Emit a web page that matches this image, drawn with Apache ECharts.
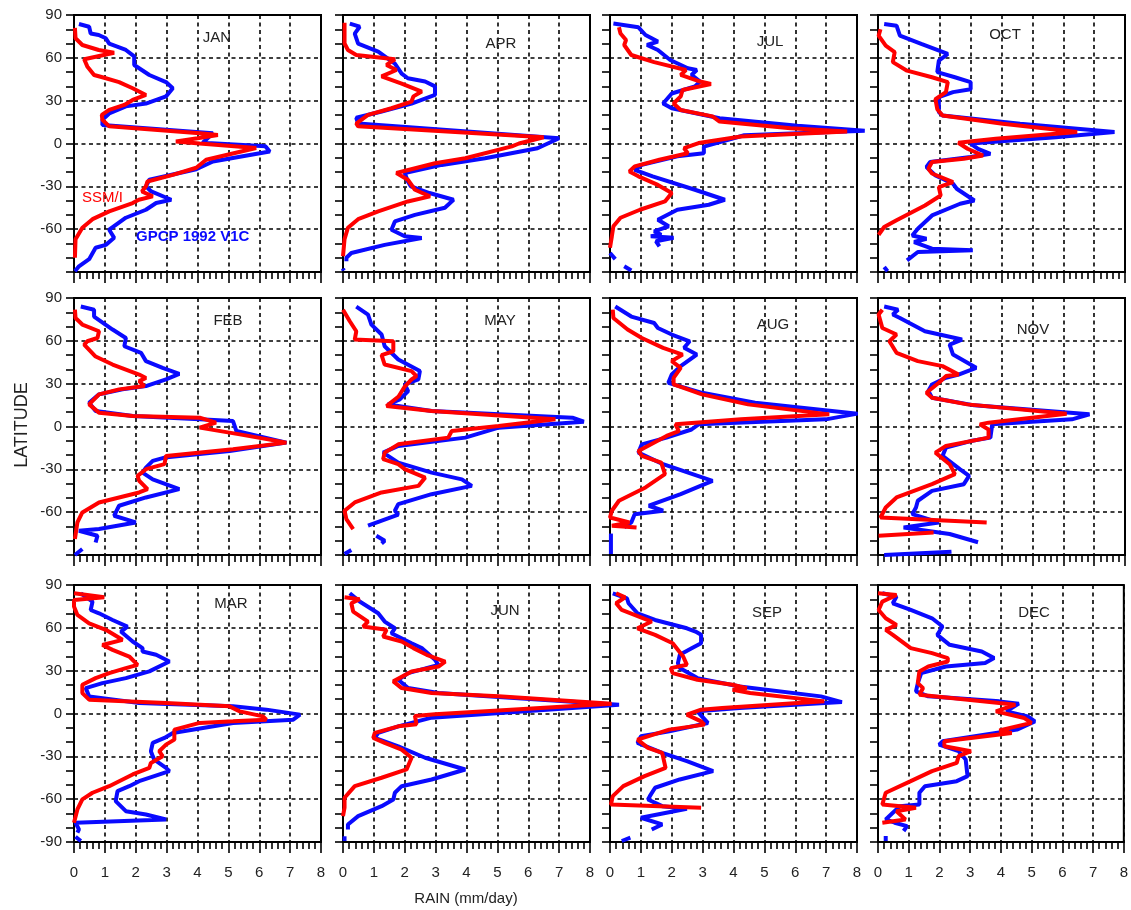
<!DOCTYPE html>
<html><head><meta charset="utf-8">
<script src="https://cdn.jsdelivr.net/npm/echarts@6/dist/echarts.min.js"></script>
<style>html,body{margin:0;padding:0;background:#fff}#c{width:1131px;height:910px}</style>
</head><body><div id="c"></div>
<script>
// ---- DATA: points are [rain (mm/day), latitude]; null separates disconnected pieces
const MONTHS = ['JAN','FEB','MAR','APR','MAY','JUN','JUL','AUG','SEP','OCT','NOV','DEC'];
const X_TICKS = [0,1,2,3,4,5,6,7,8];
const Y_TICKS = [-90,-60,-30,0,30,60,90];

const SSMI_JAN = [[0.03,81],[0.05,73.7],[0.27,69],[0.8,65.5],[1.3,63.6],[0.33,59],[0.43,54],[0.65,48],[0.92,46.4],[1.46,43],[1.9,38.7],[2.33,34],[1.9,30.5],[1.63,27],[1.14,23.5],[0.9,20],[0.92,16.6],[1.14,12],[4.07,7.2],[4.66,6],[4.0,3.7],[3.3,1.4],[4.07,0],[5.9,-3.2],[4.28,-11.4],[3.96,-17],[3.2,-22],[2.38,-26.6],[2.33,-30],[2.2,-33.6],[2.55,-37],[2.1,-39.4],[1.9,-41.7],[1.14,-47.5],[0.6,-53],[0.27,-59],[0.05,-67],[0.03,-80]];
const GPCP_JAN = [[0.16,83.7],[0.49,81.8],[0.54,77],[0.8,76],[1.03,73.7],[1.14,70],[1.68,65.5],[1.95,61],[1.95,55],[2.44,48],[2.98,43],[3.2,38.7],[2.98,33],[2.33,28],[1.68,26],[1.14,21],[0.92,16.6],[0.92,13],[4.5,7.2],[4.17,0.5],[6.2,-2],[6.34,-5.6],[4.5,-12.6],[3.96,-18],[2.44,-25.4],[2.33,-30],[2.5,-33.6],[3.15,-39.4],[2.66,-41.7],[2.33,-46.4],[1.68,-52],[1.14,-60.4],[1.3,-66],[1.03,-71],[0.7,-73],[0.49,-81],[0.16,-86],[0.03,-89.5]];

const SSMI_FEB = [[0.03,81.8],[0.05,76],[0.27,71.4],[0.81,66.7],[0.76,62],[0.43,59.7],[0.33,57.4],[0.7,49],[1.25,43.4],[2.11,36.4],[2.33,34],[2.11,31.8],[2.28,28.3],[1.46,26],[0.81,22.5],[0.49,15.5],[0.81,9.7],[1.9,7.3],[4.07,6.2],[4.6,2.7],[4.07,-0.8],[5.37,-5.5],[6.88,-11.3],[5.15,-16],[2.98,-20.6],[2.93,-26.4],[2.33,-29.9],[2.06,-34.6],[2.11,-38],[2.38,-43.9],[2.11,-46.2],[0.81,-53.2],[0.27,-60.2],[0.11,-67.2],[0.03,-78.8]];
const GPCP_FEB = [[0.22,84],[0.65,81.8],[0.65,77],[1.25,67.9],[1.68,62],[1.63,56.2],[2.17,51.6],[2.33,45.8],[2.87,41],[3.41,36.9],[2.98,33],[2.33,28.3],[1.57,26],[0.81,22.5],[0.49,16.6],[0.7,10.8],[1.9,7.3],[4.07,5],[5.15,3.8],[5.26,-3.2],[6.88,-11.3],[5.04,-17.1],[2.93,-21.8],[2.55,-24.1],[2.33,-28.8],[2.22,-32.3],[2.55,-37],[3.41,-43.9],[2.33,-49.7],[1.46,-55.5],[1.3,-62.5],[2.0,-67.2],[0.81,-71.8],[0.16,-73],[0.76,-76.5],[0.7,-81.2],null,[0.03,-90],[0.27,-85.8]];

const SSMI_MAR = [[0,84.2],[0.98,81.4],[0,79.5],[0,74.9],[0.11,69],[0.49,63.2],[1.03,58.6],[1.57,51.6],[0.92,48],[1.25,44.6],[1.79,39.9],[2.06,34.1],[1.68,31.8],[1.14,28.3],[0.7,24.8],[0.27,20.1],[0.27,14.3],[0.49,9.7],[2.98,7.3],[5.04,5],[5.37,1.5],[6.12,-2],[6.23,-4.3],[5.15,-5.5],[4.07,-6.6],[3.25,-11.3],[3.25,-18.3],[2.98,-21.8],[2.76,-26.4],[2.87,-29.9],[2.49,-34.6],[2.44,-38.1],[1.9,-42.7],[1.14,-50.9],[0.6,-55.5],[0.27,-60.2],[0.11,-67.2],[0,-76.5]];
const GPCP_MAR = [[0.22,84.2],[0.6,78.4],[0.54,72.5],[0.81,70.2],[1.25,65.5],[1.73,60.9],[1.52,57.4],[1.9,50.4],[2.22,45.8],[2.22,43.4],[2.66,41.1],[3.09,36.4],[2.44,29.5],[1.68,24.8],[0.92,21.3],[0.38,17.8],[0.49,12],[2.11,7.3],[5.15,5],[6.23,2.7],[7.32,-0.8],[7.1,-4.3],[5.15,-6.6],[3.2,-13.6],[2.93,-17.1],[2.55,-20.6],[2.49,-26.4],[2.55,-29.9],[2.6,-32.3],[2.98,-38.1],[3.09,-40.4],[2.11,-47.4],[1.79,-50.9],[1.41,-54.4],[1.35,-61.4],[1.68,-68.4],[2.33,-70.7],[2.98,-74.2],[0.05,-76.5],[0.16,-81.2],[0.11,-83.5],null,[0.05,-86.3],[0.22,-89.3]];

const SSMI_APR = [[0.05,84.6],[0.05,70],[0.16,65.5],[0.43,62],[1.68,59],[1.41,55],[1.73,51.5],[1.25,47],[1.9,42],[2.55,36.4],[2.28,33],[2.22,29.4],[1.57,24.7],[0.81,20],[0.43,14],[0.49,12],[6.5,4.4],[5.7,0],[5.47,-2],[3.96,-10.3],[2.98,-13.8],[1.73,-20.7],[2.1,-25.4],[2.33,-32.4],[2.82,-37],[2.1,-40.6],[1.14,-47.5],[0.49,-53],[0.16,-59],[0.05,-67],[0,-79]];
const GPCP_APR = [[0.22,84],[0.54,81.8],[0.38,77],[0.49,70],[1.14,64.4],[1.68,56],[1.9,49],[2.1,45.7],[2.66,43.4],[2.98,40],[2.98,34],[2.22,28],[1.25,22.4],[0.43,18],[0.49,14],[7.0,3.7],[6.3,-3.3],[4.6,-10.3],[3.2,-15],[2.0,-20.7],[2.1,-26.6],[2.2,-30],[2.8,-34.7],[3.58,-39.4],[3.3,-45],[2.33,-50],[1.68,-54.6],[1.57,-60.4],[2.0,-65],[2.55,-66.2],[1.35,-71],[0.27,-76.7],[0.11,-80],[0.11,-82.5],null,[0,-87.5],[0.02,-89]];

const SSMI_MAY = [[0,81.8],[0.22,73.7],[0.43,66.7],[0.38,60.9],[1.63,59.7],[1.63,52.7],[1.25,50],[1.35,43.4],[2.22,38.8],[2.38,35.3],[2.22,33],[2.0,28],[1.8,21],[1.41,14.3],[2.87,10.8],[6.88,5],[5.04,0.3],[3.52,-3.2],[3.41,-7.8],[1.79,-12.5],[1.35,-18.3],[1.3,-22.9],[1.79,-26.4],[2.0,-29.9],[2.66,-35.8],[2.44,-41.6],[1.25,-46.2],[0.38,-53.2],[0.05,-59],[0.11,-64.9],[0.33,-71.9]];
const GPCP_MAY = [[0.43,84],[0.81,78.4],[0.92,71.4],[1.25,64.4],[1.35,56.2],[1.79,46.9],[2.49,38.8],[2.44,33],[2.0,29.5],[2.11,24.8],[1.84,19],[1.46,15.5],[2.87,10.8],[7.43,6.2],[7.8,3.4],[5.04,-0.8],[3.96,-7.8],[1.79,-13.6],[1.3,-18.3],[1.79,-25.3],[2.87,-32.3],[3.85,-37],[4.17,-41.6],[2.87,-47.4],[1.79,-54.4],[1.68,-59],[1.79,-61.8],[0.81,-69.5],null,[1.08,-76.5],[1.35,-80],[1.25,-81.9],null,[0.05,-89.3],[0.27,-86.5]];

const SSMI_JUN = [[0.05,81.4],[0.54,80],[0.27,77.2],[0.33,71.4],[0.81,64.4],[0.65,60.9],[1.41,58.6],[1.3,53.9],[1.9,50.4],[2.28,45.8],[2.71,41.1],[3.31,36.4],[3.09,32.9],[2.22,29.4],[1.63,22.5],[1.9,17.8],[2.87,14.3],[5.04,12],[8.7,6.9],[2.98,-0.5],[2.33,-1.7],[2.38,-7.5],[1.79,-9],[1.03,-13.6],[0.98,-17.1],[1.35,-20.6],[1.9,-25.3],[2.22,-31],[2.06,-39.2],[1.25,-45],[0.38,-50.9],[0.05,-59],[0.05,-66],[0,-71.9]];
const GPCP_JUN = [[0.22,84.2],[0.54,78.4],[1.14,70.2],[1.35,64.4],[1.68,59.7],[1.57,56.2],[2.22,49.2],[2.55,45.8],[2.98,37.6],[3.09,34.1],[2.11,28.3],[1.79,23.6],[2.11,17.8],[3.09,14.3],[5.04,11.5],[8.94,6.2],[2.87,-2.9],[1.79,-9],[1.14,-13.6],[1.03,-17.1],[1.79,-23],[2.66,-31],[3.96,-39.2],[2.87,-46.2],[1.9,-50.9],[1.68,-55.5],[1.63,-60.2],[1.25,-64.9],[0.49,-71.9],[0.16,-77.7],[0.16,-81.2],null,[0.05,-86],[0.05,-89.3]];

const SSMI_JUL = [[0.29,81.4],[0.34,77],[0.52,72.5],[0.46,69],[0.69,62],[1.43,57],[2.46,51.5],[2.29,48],[2.92,43.4],[3.27,41.7],[2.35,37.5],[2.29,33],[2.06,28],[2.29,23.5],[3.32,19],[3.55,15.4],[5.85,10.7],[7.68,8.4],[4.24,4.9],[2.87,0.3],[2.4,-3.3],[2.52,-6.8],[1.6,-11.4],[0.8,-16],[0.63,-19.6],[0.92,-23],[1.55,-29],[2.0,-34.7],[1.78,-40.6],[0.97,-46.4],[0.34,-52],[0.11,-58],[0.06,-65],[0,-73]];
const GPCP_JUL = [[0.11,84],[0.92,81.4],[1.15,76],[1.55,71.4],[1.2,69],[1.55,65.5],[1.95,58.5],[2.52,52.7],[2.81,51.5],[2.64,48],[2.92,43.4],[2.75,40],[2.0,35],[1.72,28],[2.0,24.7],[3.55,17.7],[6.07,12.4],[8.25,8.9],[4.35,5.8],[3.04,-2.2],[3.04,-6.8],[2.18,-9],[1.03,-15],[0.8,-18.4],[1.38,-23],[2.75,-32.4],[3.72,-39.4],[3.2,-42.9],[2.18,-46.4],[1.55,-53.4],[1.9,-58],[1.43,-61.5],[1.66,-63.9],[1.32,-65],[2.06,-66],[1.49,-68.5],[1.6,-72],null,[0,-76.7],[0.17,-81],null,[0.46,-86],[0.69,-89]];

const SSMI_AUG = [[0.09,81.8],[0.11,76],[0.57,67.9],[1.03,62],[1.72,55.1],[2.35,50.4],[2.0,45.8],[2.29,41.1],[2.06,34.1],[2.06,29.5],[2.98,22.5],[4.47,15.5],[7.1,8.5],[4.24,5],[2.12,1.5],[2.23,-3.2],[1.83,-6.6],[0.92,-17.1],[1.03,-20.6],[1.66,-25.3],[1.78,-33.4],[1.15,-42.7],[0.29,-52],[0.06,-59],[0,-63.7],[0.63,-67.2],[0.06,-69.5],[0.86,-70.7]];
const GPCP_AUG = [[0.17,84],[0.69,77],[1.43,72.5],[1.55,69],[2.0,64.4],[2.58,59.7],[2.4,55.1],[2.81,50.4],[2.29,42.3],[2.0,36.4],[1.89,30.6],[2.98,23.6],[4.7,16.6],[8.02,9],[6.99,5],[2.87,1.5],[2.64,-2.1],[1.83,-7.8],[1.03,-12.5],[0.92,-18.3],[1.72,-26.4],[3.32,-38.1],[2.29,-47.4],[1.26,-55.5],[1.72,-59],[0.8,-61.4],[0.69,-67.2],[0.46,-70.7],null,[0.03,-75],[0.03,-89.3]];

const SSMI_SEP = [[0.2,84.2],[0.49,81.4],[0.2,77.2],[0.38,72.5],[1.35,64.4],[0.89,59.7],[1.46,55.1],[2.03,49.2],[2.37,39.9],[2.49,34.1],[1.97,31.8],[2.03,28.3],[2.83,23.6],[3.97,20.1],[4.43,17.8],[3.97,16.6],[4.54,14.3],[6.94,8.5],[3.63,3.8],[2.95,2.7],[2.49,-0.8],[2.95,-5.5],[3.06,-7.8],[1.92,-11.3],[0.89,-18.3],[1.23,-24.1],[1.69,-27.6],[1.8,-38.1],[1.12,-43.9],[0.43,-50.9],[0.09,-57.9],[0.03,-63.7],[2.95,-66]];
const GPCP_SEP = [[0.09,84.2],[0.55,80.7],[0.6,77.2],[0.89,70.2],[1.46,65.5],[2.49,59.7],[2.77,57.4],[2.95,55.1],[2.95,49.2],[2.66,45.8],[2.26,41.1],[2.2,35.3],[2.26,31.8],[2.83,24.8],[4.2,18.9],[6.83,12],[7.51,8],[4.2,3.8],[2.83,1.5],[3.17,-6.6],[1.92,-12.5],[1.0,-16],[0.89,-20.6],[1.69,-27.6],[2.49,-33.4],[3.34,-40.4],[2.26,-46.2],[1.46,-52],[1.29,-57.9],[1.23,-60.2],[1.69,-64.9],[2.49,-66.7],[1.0,-73],[1.69,-77.7],[1.35,-81.2],null,[0.38,-89.3],[0.66,-87]];

const SSMI_OCT = [[0.08,80],[0.02,75.5],[0.25,68.5],[0.54,64],[0.48,57],[0.94,51],[1.75,46.4],[2.26,43],[2.2,36],[1.86,31],[1.92,24],[2.09,19.6],[4.04,13.8],[6.45,8],[3.81,3.3],[2.6,0.5],[2.9,-3.7],[3.4,-8.4],[2.78,-10.7],[1.75,-13],[1.63,-17.7],[1.75,-21],[2.43,-27],[1.97,-30.5],[2.03,-36.4],[1.52,-43.4],[0.6,-53.8],[0.2,-58.5],[0.02,-64]];
const GPCP_OCT = [[0.2,83.7],[0.6,82.5],[0.71,75.5],[1.4,69.7],[2.26,62.7],[1.97,58],[1.92,50],[2.49,46.4],[3.0,43],[3.0,38],[2.43,36],[1.97,32.4],[1.97,22],[2.09,19.6],[4.6,13.8],[7.66,8],[5.76,4.4],[3.0,0],[3.24,-3.7],[3.64,-7.2],[3.0,-9.5],[1.69,-13],[1.57,-16.5],[1.86,-22.4],[2.43,-28.2],[2.55,-31.7],[3.12,-39.9],[2.66,-42.2],[1.75,-50.4],[1.29,-59.7],[1.11,-64.4],[1.57,-66.7],[1.17,-69],[1.75,-73.7],[3.07,-74.8],[1.29,-76],[0.94,-81.8],null,[0.2,-86.5],[0.31,-89.5]];

const SSMI_NOV = [[0.14,81.8],[0.02,78.4],[0.14,69],[0.6,64.4],[0.37,59.7],[0.6,51.6],[1.29,45.8],[2.09,42.3],[2.61,36.4],[2.2,35.3],[1.97,30.6],[1.57,23.6],[1.75,20.1],[2.89,15.5],[6.11,9],[3.58,2.7],[3.3,1.5],[3.58,-2.1],[3.58,-7.8],[2.2,-13.6],[1.86,-18.3],[2.32,-26.4],[2.49,-33.4],[1.75,-40.4],[0.6,-49.7],[0.25,-56.7],[0.08,-63.7],[3.52,-67.2],null,[0.02,-76.5],[1.8,-74.2]];
const GPCP_NOV = [[0.2,84],[0.65,81.8],[0.48,78.4],[0.71,76],[1.52,66.7],[2.72,60.9],[2.32,57.4],[2.43,50.4],[3.18,41.1],[2.61,36.4],[2.2,34.1],[1.75,29.4],[1.63,24.8],[1.75,20.1],[3.12,14.8],[6.85,8.5],[6.28,5],[3.7,1.5],[3.64,-7.8],[3.0,-10.2],[2.2,-14.8],[2.09,-20.6],[2.66,-30],[2.95,-34.6],[2.78,-40.4],[1.75,-45.1],[1.29,-52],[1.23,-56.7],[1.11,-61.4],[1.97,-67.2],[0.83,-70.7],[2.32,-75.3],[3.24,-81.1],null,[0.2,-90],[2.38,-87.7]];

const SSMI_DEC = [[0,84.2],[0.6,83],[0.14,78.4],[0.02,72.5],[0.25,66.7],[0.6,62],[0.25,58.6],[0.48,55.1],[1.06,45.8],[1.75,42.3],[2.26,38.8],[2.26,36.4],[1.63,32.9],[1.34,29.4],[1.29,21.3],[1.46,17.8],[1.34,13.2],[3.93,7.3],[4.45,6.2],[3.82,1.5],[4.74,-3.2],[4.97,-6.6],[3.93,-11.8],[4.33,-13.6],[2.15,-19.5],[2.15,-22.9],[3.01,-26.4],[2.61,-29.9],[2.55,-34.6],[1.75,-40.4],[1.06,-47.4],[0.25,-55.5],[0.14,-63.7],[1.23,-66],[0.6,-68.4],[0.89,-74.2],[0.14,-76.5]];
const GPCP_DEC = [[0.14,84.2],[0.6,81.9],[0.48,77.2],[1.06,72.5],[1.75,66.7],[2.09,60.9],[1.92,55.1],[2.32,48.1],[3.36,43.4],[3.76,38.8],[3.47,35.3],[2.2,32.9],[1.4,28.3],[1.29,21.3],[1.23,15.5],[1.63,12],[3.93,8.5],[4.56,6.9],[4.16,1.5],[4.85,-2],[5.08,-5.5],[4.5,-11.3],[2.09,-19.5],[1.98,-21.8],[2.61,-26.4],[2.84,-32.2],[2.9,-43.9],[2.55,-47.4],[1.52,-50.9],[1.34,-55.5],[1.34,-63.7],[0.71,-64.9],[0.48,-69.5],[0.25,-74.2],[0.54,-76.5],[0.94,-78.9],[0.83,-82.3],null,[0.25,-85.8],[0.25,-89.3]];

const SSMI = {JAN:SSMI_JAN,FEB:SSMI_FEB,MAR:SSMI_MAR,APR:SSMI_APR,MAY:SSMI_MAY,JUN:SSMI_JUN,JUL:SSMI_JUL,AUG:SSMI_AUG,SEP:SSMI_SEP,OCT:SSMI_OCT,NOV:SSMI_NOV,DEC:SSMI_DEC};
const GPCP = {JAN:GPCP_JAN,FEB:GPCP_FEB,MAR:GPCP_MAR,APR:GPCP_APR,MAY:GPCP_MAY,JUN:GPCP_JUN,JUL:GPCP_JUL,AUG:GPCP_AUG,SEP:GPCP_SEP,OCT:GPCP_OCT,NOV:GPCP_NOV,DEC:GPCP_DEC};

// ---- LAYOUT
const W = 1131, H = 910;
const COL_LEFT = [74, 343, 610, 878];
const ROW_TOP = [15, 298, 585];
const PW = 247, PH = 257;
const X_MAX = 8;
const TITLE_POS = {JAN:[217,38],FEB:[228,321],MAR:[231,604],APR:[501,44],MAY:[500,321],JUN:[505,611],JUL:[770,42],AUG:[773,325],SEP:[767,613],OCT:[1005,35],NOV:[1033,330],DEC:[1034,613]};
const FONT = '"Liberation Sans", Arial, sans-serif';
const RED = '#ff0000', BLUE = '#0a0aff';

function pieces(arr){const out=[[]];arr.forEach(p=>{if(p===null)out.push([]);else out[out.length-1].push(p);});return out.filter(s=>s.length);}

const grids=[], xAxes=[], yAxes=[], series=[], graphics=[];
const N = MONTHS.length;
// visible frames with axes (grid 0..11)
MONTHS.forEach((m,i)=>{
  const col=Math.floor(i/3), row=i%3;
  grids.push({left:COL_LEFT[col], top:ROW_TOP[row], width:PW, height:PH, show:true, borderColor:'#000', borderWidth:2, backgroundColor:'transparent', z:1});
  const split={show:true, lineStyle:{color:'#000', width:1.6, type:[4,3.5]}};
  xAxes.push({type:'value', gridIndex:i, min:0, max:X_MAX, interval:1,
    axisLine:{show:true, onZero:false, lineStyle:{color:'#000', width:2}},
    axisTick:{show:true, length:11, lineStyle:{color:'#000', width:1.6}},
    minorTick:{show:true, splitNumber:5, length:7, lineStyle:{color:'#000', width:1.6}},
    axisLabel:{show:row===2, fontSize:15, color:'#222', fontFamily:FONT, margin:23, showMinLabel:true, showMaxLabel:true},
    splitLine:split});
  yAxes.push({type:'value', gridIndex:i, min:-90, max:90, interval:30,
    axisLine:{show:true, onZero:false, lineStyle:{color:'#000', width:2}},
    axisTick:{show:true, length:8, lineStyle:{color:'#000', width:1.6}},
    minorTick:{show:true, splitNumber:3, length:8, lineStyle:{color:'#000', width:1.6}},
    axisLabel:{show:col===0, fontSize:15, color:'#222', fontFamily:FONT, margin:12,
      formatter:v=>(v===-90 && row<2)?'':String(v)},
    splitLine:split});
  graphics.push({type:'text', x:TITLE_POS[m][0], y:TITLE_POS[m][1], z:10,
    style:{text:m, fill:'#222', font:'15px '+FONT, align:'center', verticalAlign:'middle'}});
});
// data layers: same scale as the frame, extended to the right so overshooting peaks stay visible
MONTHS.forEach((m,i)=>{
  const col=Math.floor(i/3), row=i%3, g=N+i;
  const ext = Math.min(PW*9/8, W - 2 - COL_LEFT[col]);   // extended width in px
  const xOver = X_MAX*ext/PW;                               // same px-per-unit as frame
  grids.push({left:COL_LEFT[col], top:ROW_TOP[row], width:ext, height:PH, show:false});
  xAxes.push({type:'value', gridIndex:g, min:0, max:xOver, show:false});
  yAxes.push({type:'value', gridIndex:g, min:-90, max:90, show:false});
  pieces(GPCP[m]).forEach(seg=>series.push({type:'line', name:'GPCP 1992 V1C', xAxisIndex:g, yAxisIndex:g, data:seg, symbol:'none', z:3,
    lineStyle:{color:BLUE, width:4}, itemStyle:{color:BLUE}, animation:false}));
  pieces(SSMI[m]).forEach(seg=>series.push({type:'line', name:'SSM/I', xAxisIndex:g, yAxisIndex:g, data:seg, symbol:'none', z:4,
    lineStyle:{color:RED, width:4}, itemStyle:{color:RED}, animation:false}));
});
graphics.push({type:'text', x:22, y:425, rotation:Math.PI/2, style:{text:'LATITUDE', fill:'#222', font:'18px '+FONT, align:'center', verticalAlign:'middle'}});
graphics.push({type:'text', x:466, y:899, style:{text:'RAIN (mm/day)', fill:'#222', font:'15px '+FONT, align:'center', verticalAlign:'middle'}});
graphics.push({type:'text', x:82, y:198, z:10, style:{text:'SSM/I', fill:RED, font:'15px '+FONT, align:'left', verticalAlign:'middle'}});
graphics.push({type:'text', x:136, y:237, z:10, style:{text:'GPCP 1992 V1C', fill:BLUE, font:'bold 15px '+FONT, align:'left', verticalAlign:'middle'}});

const chart = echarts.init(document.getElementById('c'), null, {renderer:'canvas', width:W, height:H});
chart.setOption({animation:false, backgroundColor:'#fff', grid:grids, xAxis:xAxes, yAxis:yAxes, series:series, graphic:graphics});
</script></body></html>
